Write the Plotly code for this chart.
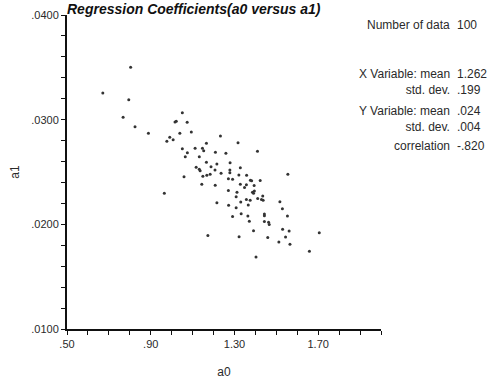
import plotly.graph_objects as go

# a0 values
a0 = [0.804, 0.671, 0.795, 0.768, 0.825, 0.889, 1.051, 1.016, 1.022, 1.074,
      1.039, 1.094, 0.991, 1.007, 0.977, 1.051, 1.075, 1.065, 1.112, 1.132,
      1.117, 1.132, 1.059, 1.233, 1.166, 1.317, 1.147, 1.153, 1.209, 1.259,
      1.410, 1.166, 1.136, 1.216, 1.188, 1.279, 1.207, 1.236, 1.278, 1.278,
      1.328, 1.321, 1.358, 1.184, 1.168, 1.149, 1.555, 1.271, 1.291, 1.376,
      1.382, 1.423, 1.144, 1.208, 1.328, 1.357, 1.394, 1.271, 1.312, 1.348,
      1.386, 1.395, 1.391, 1.435, 1.308, 1.357, 1.375, 1.411, 1.429, 1.437,
      1.216, 1.330, 1.272, 1.308, 1.366, 1.517, 1.529, 1.553, 1.291, 1.364,
      1.443, 1.443, 1.443, 1.463, 1.466, 1.391, 1.530, 1.561, 1.173, 1.322,
      1.459, 1.544, 1.512, 1.565, 1.705, 1.658, 1.403, 0.965, 1.332, 1.371]
# a1 values
a1 = [0.03500, 0.03255, 0.03191, 0.03023, 0.02933, 0.02870, 0.03067, 0.02978, 0.02984, 0.02975,
      0.02870, 0.02882, 0.02832, 0.02809, 0.02793, 0.02723, 0.02684, 0.02646, 0.02726, 0.02646,
      0.02545, 0.02526, 0.02455, 0.02844, 0.02774, 0.02780, 0.02726, 0.02704, 0.02688, 0.02679,
      0.02698, 0.02593, 0.02512, 0.02576, 0.02551, 0.02589, 0.02519, 0.02488, 0.02519, 0.02493,
      0.02541, 0.02471, 0.02469, 0.02478, 0.02469, 0.02460, 0.02478, 0.02436, 0.02430, 0.02422,
      0.02417, 0.02419, 0.02383, 0.02373, 0.02383, 0.02379, 0.02371, 0.02323, 0.02307, 0.02352,
      0.02306, 0.02319, 0.02297, 0.02271, 0.02264, 0.02237, 0.02231, 0.02247, 0.02237, 0.02230,
      0.02207, 0.02213, 0.02183, 0.02159, 0.02185, 0.02216, 0.02148, 0.02080, 0.02075, 0.02080,
      0.02099, 0.02083, 0.02027, 0.02019, 0.01998, 0.01938, 0.01954, 0.01936, 0.01893, 0.01881,
      0.01874, 0.01879, 0.01831, 0.01809, 0.01920, 0.01743, 0.01688, 0.02297, 0.02102, 0.02029]

x_tickvals = [0.5, 0.9, 1.3, 1.7]
x_ticktext = [".50", ".90", "1.30", "1.70"]
y_tickvals = [0.01, 0.02, 0.03, 0.04]
y_ticktext = [".0100", ".0200", ".0300", ".0400"]

# statistics block: groups of (labels, values)
stat_labels = [["Number of data"],
               ["X Variable: mean", "std. dev."],
               ["Y Variable: mean", "std. dev."],
               ["correlation"]]
stat_values = [["100"], ["1.262", ".199"], [".024", ".004"], ["-.820"]]
stat_ypos = [0.968, 0.7866, 0.6688, 0.583]

title_text = "Regression Coefficients(a0 versus a1)"

FONT = "Liberation Sans, Arial, sans-serif"
TXT = "#2a2a2a"

fig = go.Figure()
fig.add_trace(go.Scatter(
    x=a0, y=a1, mode="markers",
    marker=dict(size=3, color="#333333"),
    hoverinfo="skip", showlegend=False,
))

fig.update_layout(
    width=488, height=383,
    margin=dict(l=67, r=107, t=15, b=54, pad=0),
    paper_bgcolor="white", plot_bgcolor="white",
    font=dict(family=FONT, size=11, color=TXT),
    showlegend=False,
)

fig.update_xaxes(
    range=[0.5, 2.0], showgrid=False, zeroline=False,
    showline=True, linecolor="#111111", linewidth=1.5,
    ticks="outside", ticklen=4, tickwidth=1, tickcolor="#111111",
    tickvals=x_tickvals, ticktext=x_ticktext,
    tickfont=dict(family=FONT, size=11, color=TXT),
    minor=dict(ticks="outside", ticklen=4, tickwidth=1, tickcolor="#111111",
               dtick=0.1, tick0=0.5, showgrid=False),
    title=dict(text="a0", font=dict(family=FONT, size=12, color=TXT), standoff=19),
    automargin=False,
)
fig.update_yaxes(
    range=[0.01, 0.04], showgrid=False, zeroline=False,
    showline=True, linecolor="#111111", linewidth=2,
    ticks="outside", ticklen=4, tickwidth=1, tickcolor="#111111",
    tickvals=y_tickvals, ticktext=y_ticktext,
    tickfont=dict(family=FONT, size=11, color=TXT),
    minor=dict(ticks="outside", ticklen=4, tickwidth=1, tickcolor="#111111",
               dtick=0.002, tick0=0.01, showgrid=False),
    title=dict(text="a1", font=dict(family=FONT, size=12, color=TXT), standoff=9),
    automargin=False,
)

fig.add_annotation(
    text="<b><i>" + title_text + "</i></b>",
    xref="paper", yref="paper", x=0.0, y=1.0, xanchor="left", yanchor="bottom",
    showarrow=False, font=dict(family=FONT, size=14, color="#111111"),
    xshift=-2, yshift=-4,
)

for labs, vals, yp in zip(stat_labels, stat_values, stat_ypos):
    fig.add_annotation(text="<br>".join(labs), xref="paper", yref="paper",
                       x=1.2229, y=yp, xanchor="right", yanchor="middle",
                       align="right", showarrow=False, borderpad=0,
                       font=dict(family=FONT, size=12, color=TXT))
    fig.add_annotation(text="<br>".join(vals), xref="paper", yref="paper",
                       x=1.2385, y=yp, xanchor="left", yanchor="middle",
                       align="left", showarrow=False, borderpad=0,
                       font=dict(family=FONT, size=12, color=TXT))

fig.write_html("out.html")
